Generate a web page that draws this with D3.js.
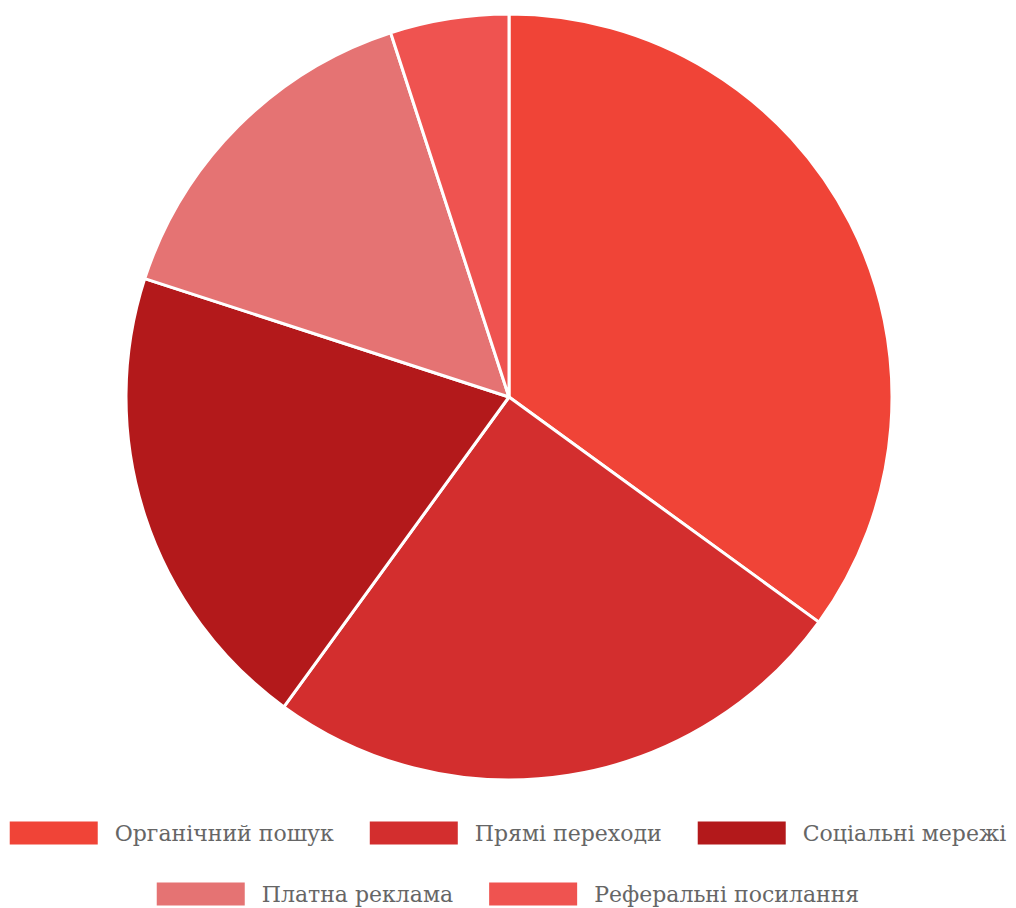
<!DOCTYPE html>
<html>
<head>
<meta charset="utf-8">
<script src="https://cdn.jsdelivr.net/npm/d3@7"></script>
<style>
  html, body { margin: 0; padding: 0; background: #ffffff; }
  svg { display: block; }
  .legend text { font-family: "DejaVu Serif", "Liberation Serif", "Times New Roman", serif; }
</style>
</head>
<body>
<svg id="chart" width="1016" height="908"></svg>
<script>
// Traffic sources, share in percent
const categories = ["Органічний пошук", "Прямі переходи", "Соціальні мережі", "Платна реклама", "Реферальні посилання"];
const values = [35, 25, 20, 15, 5];
const colors = ["#f04437", "#d32e2e", "#b3191b", "#e57373", "#ef5350"];

const width = 1016, height = 908;
const cx = 509, cy = 397, radius = 383;

const svg = d3.select("#chart");

const color = d3.scaleOrdinal().domain(categories).range(colors);

const pie = d3.pie().sort(null).value(d => d.value);
const arc = d3.arc().innerRadius(0).outerRadius(radius);

const data = categories.map((c, i) => ({ name: c, value: values[i] }));

svg.append("g")
  .attr("transform", `translate(${cx},${cy})`)
  .selectAll("path")
  .data(pie(data))
  .join("path")
  .attr("d", arc)
  .attr("fill", d => color(d.data.name))
  .attr("stroke", "#ffffff")
  .attr("stroke-width", 3)
  .attr("stroke-linejoin", "round");

// Legend: centred rows that wrap
const boxW = 88, boxH = 23, boxGap = 17, itemGap = 36;
const rowY = [833, 894];
const maxW = 1010;
const fontSize = 22;

const legend = svg.append("g").attr("class", "legend");
const measure = legend.append("text")
  .attr("font-size", fontSize);
const items = categories.map(c => {
  measure.text(c);
  const tw = measure.node().getComputedTextLength();
  return { name: c, w: boxW + boxGap + tw };
});
measure.remove();

const rows = [[]];
let cur = 0;
items.forEach(it => {
  const add = (rows[rows.length - 1].length ? itemGap : 0) + it.w;
  if (cur + add > maxW && rows[rows.length - 1].length) {
    rows.push([it]);
    cur = it.w;
  } else {
    rows[rows.length - 1].push(it);
    cur += add;
  }
});

rows.forEach((row, ri) => {
  const total = d3.sum(row, d => d.w) + itemGap * (row.length - 1);
  let x = (width - total) / 2;
  const y = rowY[ri];
  row.forEach(it => {
    const g = legend.append("g").attr("transform", `translate(${x},${y})`);
    g.append("rect")
      .attr("x", 0).attr("y", -boxH / 2)
      .attr("width", boxW).attr("height", boxH)
      .attr("fill", color(it.name));
    g.append("text")
      .attr("x", boxW + boxGap).attr("y", 0)
      .attr("dy", "0.35em")
      .attr("font-size", fontSize)
      .attr("fill", "#666666")
      .text(it.name);
    x += it.w + itemGap;
  });
});
</script>
</body>
</html>
